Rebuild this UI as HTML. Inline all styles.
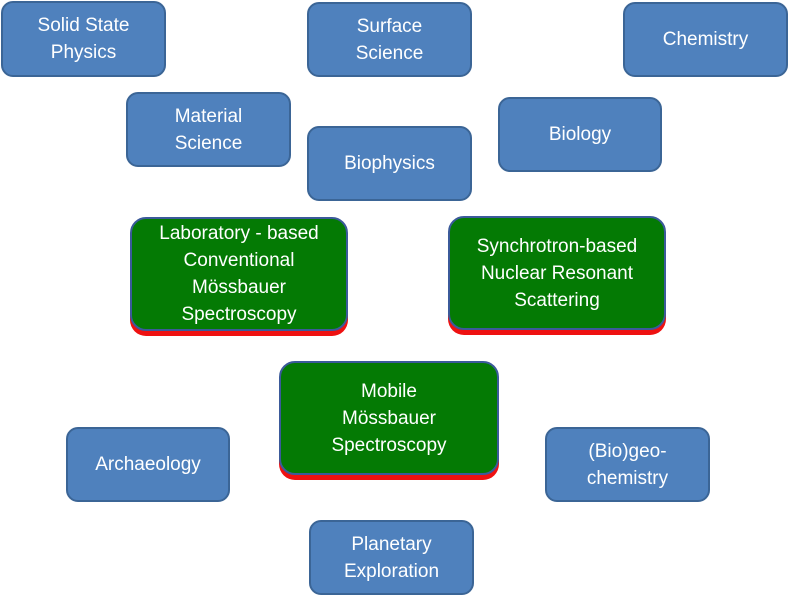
<!DOCTYPE html>
<html><head><meta charset="utf-8"><style>
body{margin:0;width:790px;height:597px;background:#fff;position:relative;overflow:hidden;font-family:"Liberation Sans",sans-serif;}
.b{position:absolute;box-sizing:border-box;background:#4f81bd;border:2px solid #3b6596;border-radius:12px;color:#fff;display:flex;align-items:center;justify-content:center;text-align:center;font-size:19px;line-height:27px;}
.g{background:#047a04;border:2px solid #3b5a9a;border-radius:16px;box-shadow:0 5px 0 #ee1111;font-size:19px;line-height:27px;}
</style></head><body>
<div class="b" style="left:1px;top:1px;width:165px;height:76px">Solid State<br>Physics</div>
<div class="b" style="left:307px;top:2px;width:165px;height:75px">Surface<br>Science</div>
<div class="b" style="left:623px;top:2px;width:165px;height:75px">Chemistry</div>
<div class="b" style="left:126px;top:92px;width:165px;height:75px">Material<br>Science</div>
<div class="b" style="left:307px;top:126px;width:165px;height:75px">Biophysics</div>
<div class="b" style="left:498px;top:97px;width:164px;height:75px">Biology</div>
<div class="b g" style="left:130px;top:217px;width:218px;height:114px">Laboratory - based<br>Conventional<br>Mössbauer<br>Spectroscopy</div>
<div class="b g" style="left:448px;top:216px;width:218px;height:114px">Synchrotron-based<br>Nuclear Resonant<br>Scattering</div>
<div class="b g" style="left:279px;top:361px;width:220px;height:114px">Mobile<br>Mössbauer<br>Spectroscopy</div>
<div class="b" style="left:66px;top:427px;width:164px;height:75px">Archaeology</div>
<div class="b" style="left:545px;top:427px;width:165px;height:75px">(Bio)geo-<br>chemistry</div>
<div class="b" style="left:309px;top:520px;width:165px;height:75px">Planetary<br>Exploration</div>
</body></html>
